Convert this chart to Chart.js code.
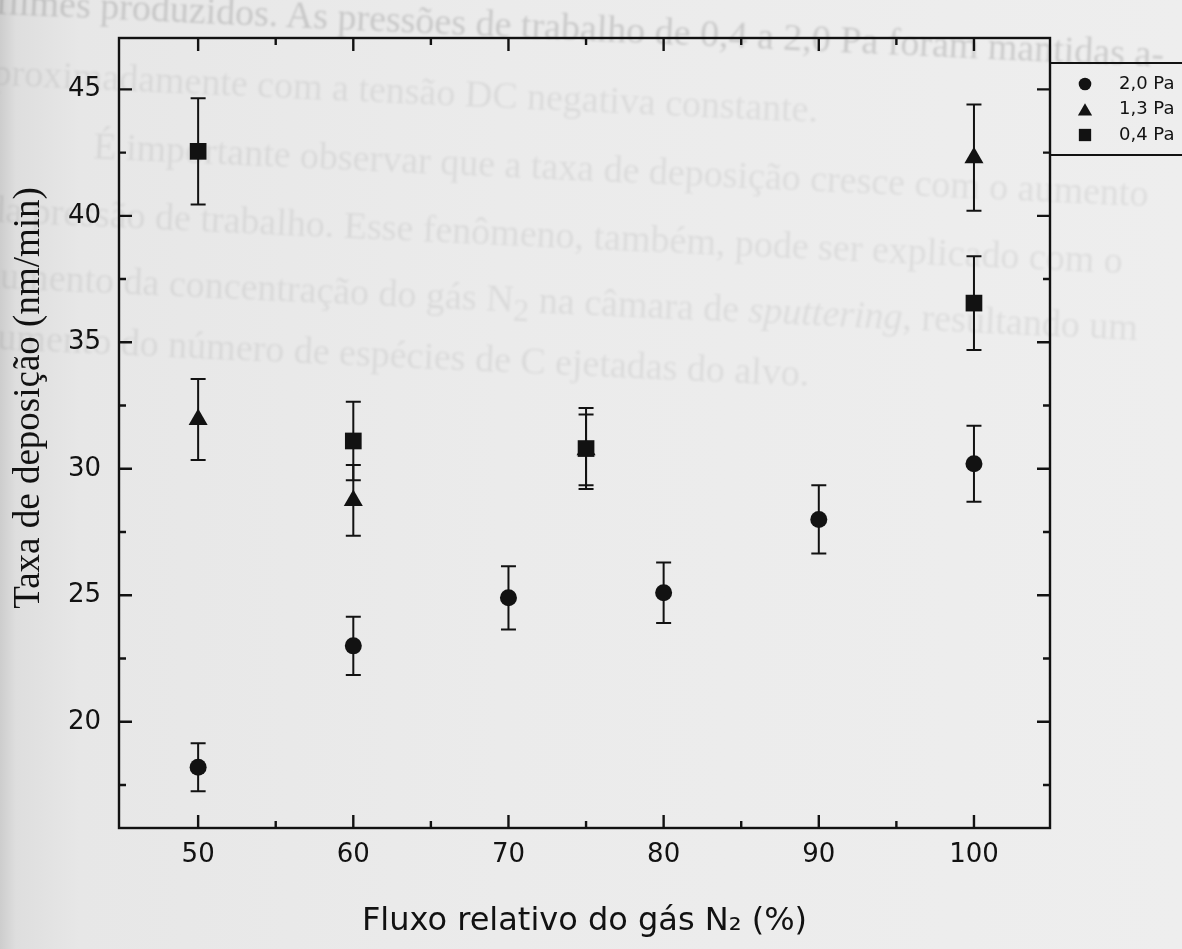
<!DOCTYPE html>
<html lang="pt">
<head>
<meta charset="utf-8">
<title>Taxa de deposição x fluxo de N2</title>
<script src="https://cdn.jsdelivr.net/npm/chart.js@4.4.1/dist/chart.umd.min.js"></script>
<style>
  html, body { margin: 0; padding: 0; }
  body {
    width: 1182px; height: 949px; overflow: hidden; position: relative;
    background: linear-gradient(to right, #cdcdcd 0px, #dedede 16px, #e7e7e7 80px, #ebebeb 500px, #eeeeee 1182px);
  }
  /* texto do verso da folha, visto por transparência */
  #verso {
    position: absolute; left: 0; top: 0; width: 1400px; height: 500px;
    transform: rotate(2.6deg); transform-origin: 0 0; filter: blur(0.9px);
    font-family: "Liberation Serif", "Times New Roman", serif; font-size: 38px; line-height: 1;
    color: rgba(0, 0, 0, 0.07);
  }
  #verso div { position: absolute; white-space: nowrap; }
  canvas { position: absolute; left: 0; top: 0; }
</style>
</head>
<body>
<div id="verso">
  <div style="left:-4px; top:-18px; color: rgba(0,0,0,0.15)">filmes produzidos. As pressões de trabalho de 0,4 a 2,0 Pa foram mantidas a-</div>
  <div style="left:-4px; top:53px">proximadamente com a tensão DC negativa constante.</div>
  <div style="left:100px; top:122px">É importante observar que a taxa de deposição cresce com o aumento</div>
  <div style="left:-4px; top:190px">da pressão de trabalho. Esse fenômeno, também, pode ser explicado com o</div>
  <div style="left:-4px; top:256px">aumento da concentração do gás N<sub>2</sub> na câmara de <i>sputtering</i>, resultando um</div>
  <div style="left:-4px; top:317px">aumento do número de espécies de C ejetadas do alvo.</div>
</div>

<canvas id="depositionChart" width="1182" height="949"></canvas>

<script>

// fluxo relativo de N2 (%) e taxa de deposição (nm/min) por pressão de trabalho
const pressureLabels = [ '2,0 Pa', '1,3 Pa', '0,4 Pa' ];

const flux20 = [ 50, 60, 70, 80, 90, 100 ];
const rate20 = [ 18.2, 23.0, 24.9, 25.1, 28.0, 30.2 ];
const err20  = [ 0.95, 1.15, 1.25, 1.2, 1.35, 1.5 ];

const flux13 = [ 50, 60, 75, 100 ];
const rate13 = [ 31.95, 28.75, 30.75, 42.3 ];
const err13  = [ 1.6, 1.4, 1.4, 2.1 ];

const flux04 = [ 50, 60, 75, 100 ];
const rate04 = [ 42.55, 31.1, 30.8, 36.55 ];
const err04  = [ 2.1, 1.55, 1.6, 1.85 ];

const xTicks      = [ 50, 60, 70, 80, 90, 100 ];
const xMinorTicks = [ 55, 65, 75, 85, 95 ];
const yTicks      = [ 20, 25, 30, 35, 40, 45 ];
const yMinorTicks = [ 17.5, 22.5, 27.5, 32.5, 37.5, 42.5 ];

const INK = '#121212';

function toPoints( xs, ys ) {

    return xs.map( function( x, i ) { return { x: x, y: ys[ i ] }; } );

}

// barras de erro verticais com traço nas pontas
const errorBars = {
    id: 'errorBars',
    beforeDatasetsDraw( chart ) {
        const ctx = chart.ctx;
        const yScale = chart.scales.y;
        ctx.save();
        ctx.strokeStyle = INK;
        ctx.lineWidth = 2;
        chart.data.datasets.forEach( function( ds, i ) {
            chart.getDatasetMeta( i ).data.forEach( function( pt, j ) {
                const v = ds.data[ j ].y;
                const e = ds.errors[ j ];
                const top = yScale.getPixelForValue( v + e );
                const bot = yScale.getPixelForValue( v - e );
                ctx.beginPath();
                ctx.moveTo( pt.x, top );
                ctx.lineTo( pt.x, bot );
                ctx.moveTo( pt.x - 7.5, top );
                ctx.lineTo( pt.x + 7.5, top );
                ctx.moveTo( pt.x - 7.5, bot );
                ctx.lineTo( pt.x + 7.5, bot );
                ctx.stroke();
            } );
        } );
        ctx.restore();
    }
};

// moldura fechada com marcas para dentro nos quatro lados
const boxFrame = {
    id: 'boxFrame',
    beforeDatasetsDraw( chart ) {
        const ctx = chart.ctx;
        const a = chart.chartArea;
        const x = chart.scales.x;
        const y = chart.scales.y;
        ctx.save();
        ctx.strokeStyle = INK;
        ctx.lineWidth = 2.4;
        ctx.strokeRect( a.left, a.top, a.right - a.left, a.bottom - a.top );

        ctx.beginPath();
        function markX( v, len ) {
            const px = x.getPixelForValue( v );
            ctx.moveTo( px, a.bottom ); ctx.lineTo( px, a.bottom - len );
            ctx.moveTo( px, a.top );    ctx.lineTo( px, a.top + len );
        }
        function markY( v, len ) {
            const py = y.getPixelForValue( v );
            ctx.moveTo( a.left, py );  ctx.lineTo( a.left + len, py );
            ctx.moveTo( a.right, py ); ctx.lineTo( a.right - len, py );
        }
        xTicks.forEach( function( v ) { markX( v, 13 ); } );
        xMinorTicks.forEach( function( v ) { markX( v, 7 ); } );
        yTicks.forEach( function( v ) { markY( v, 13 ); } );
        yMinorTicks.forEach( function( v ) { markY( v, 7 ); } );
        ctx.stroke();
        ctx.restore();
    }
};

// legenda em caixa à direita do gráfico e título do eixo y
const sideLegend = {
    id: 'sideLegend',
    afterDraw( chart ) {
        const ctx = chart.ctx;
        const a = chart.chartArea;
        const boxTop = a.top + 25;
        const legendRadius = [ 6.3, 8.2, 8.7 ];

        ctx.save();
        ctx.strokeStyle = INK;
        ctx.lineWidth = 2;
        ctx.strokeRect( a.right, boxTop, 180, 92 );

        ctx.font = '18px "DejaVu Sans"';
        ctx.textAlign = 'left';
        ctx.textBaseline = 'middle';
        chart.data.datasets.forEach( function( ds, i ) {
            const cy = boxTop + 21 + i * 25.5;
            ctx.fillStyle = INK;
            Chart.helpers.drawPoint( ctx, {
                pointStyle: ds.pointStyle,
                radius: legendRadius[ i ],
                rotation: 0,
                borderWidth: 0,
            }, a.right + 35, cy + ( ds.pointStyle === 'triangle' ? 2 : 0 ) );
            ctx.fillText( ds.label, a.right + 69, cy );
        } );

        ctx.translate( 29, 398 );
        ctx.rotate( -Math.PI / 2 );
        ctx.font = '37px "Liberation Serif"';
        ctx.textAlign = 'center';
        ctx.fillText( 'Taxa de deposição (nm/min)', 0, 0 );
        ctx.restore();
    }
};

function addDepositionChart() {

    const ctx = document.getElementById( 'depositionChart' ).getContext( '2d' );

    const markerBase = {
        showLine: false,
        backgroundColor: INK,
        borderWidth: 0,
        pointBorderWidth: 0,
        pointHoverRadius: 0,
    };

    let depositionChart = new Chart( ctx, {
        type: 'scatter',
        data: {
            datasets: [
                Object.assign( {}, markerBase, {
                    label: pressureLabels[ 0 ],
                    data: toPoints( flux20, rate20 ),
                    errors: err20,
                    pointStyle: 'circle',
                    pointRadius: 8.5,
                    order: 2,
                } ),
                Object.assign( {}, markerBase, {
                    label: pressureLabels[ 1 ],
                    data: toPoints( flux13, rate13 ),
                    errors: err13,
                    pointStyle: 'triangle',
                    pointRadius: 11,
                    order: 1,
                } ),
                Object.assign( {}, markerBase, {
                    label: pressureLabels[ 2 ],
                    data: toPoints( flux04, rate04 ),
                    errors: err04,
                    pointStyle: 'rect',
                    pointRadius: 11.8,
                    order: 0,
                } ),
            ],
        },
        options: {
            responsive: false,
            animation: false,
            devicePixelRatio: 1,
            layout: {
                padding: { top: 38, right: 132, bottom: 0, left: 0 },
            },
            plugins: {
                legend: { display: false },
                tooltip: { enabled: false },
            },
            scales: {
                x: {
                    type: 'linear',
                    min: 44.9,
                    max: 104.9,
                    grid: { display: false, drawTicks: false },
                    border: { display: false },
                    afterBuildTicks: function( scale ) {
                        scale.ticks = xTicks.map( function( v ) { return { value: v }; } );
                    },
                    afterFit: function( scale ) { scale.height = 121; },
                    ticks: {
                        color: INK,
                        padding: 12,
                        font: { family: 'DejaVu Sans', size: 26 },
                    },
                    title: {
                        display: true,
                        text: 'Fluxo relativo do gás N₂ (%)',
                        color: INK,
                        font: { family: 'DejaVu Sans', size: 32 },
                        padding: { top: 0, bottom: 8 },
                    },
                },
                y: {
                    type: 'linear',
                    min: 15.8,
                    max: 47.03,
                    grid: { display: false, drawTicks: false },
                    border: { display: false },
                    afterBuildTicks: function( scale ) {
                        scale.ticks = yTicks.map( function( v ) { return { value: v }; } );
                    },
                    afterFit: function( scale ) { scale.width = 119; },
                    ticks: {
                        color: INK,
                        padding: 18,
                        font: { family: 'DejaVu Sans', size: 26 },
                    },
                },
            },
        },
        plugins: [ errorBars, boxFrame, sideLegend ],
    } );

}

addDepositionChart();

</script>
</body>
</html>
